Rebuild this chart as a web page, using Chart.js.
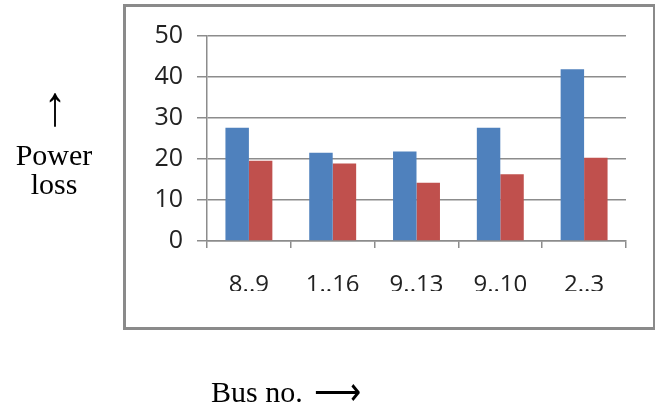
<!DOCTYPE html>
<html>
<head>
<meta charset="utf-8">
<script src="https://cdn.jsdelivr.net/npm/chart.js@4/dist/chart.umd.min.js"></script>
<style>
  body { margin: 0; background: #fff; }
  #wrap { position: relative; width: 655px; height: 410px; overflow: hidden; }
  #box { position: absolute; left: 123px; top: 4px; width: 527px; height: 320px; border: 3px solid #8a8a8a; }
  #chart { position: absolute; left: 0; top: 0; }
  .serif { position: absolute; font-family: "Liberation Serif", "Times New Roman", serif; font-size: 30px; color: #000; line-height: 29px; }
  #upArrow { position: absolute; left: 0; width: 110px; top: 91px; text-align: center; font-family: "Liberation Serif", serif; font-size: 30px; line-height: 30px; transform: scale(1.5, 1.9); transform-origin: 55px 15px; }
  #rightArrow { display: inline-block; margin-left: 4px; transform: scale(1.1, 1.3); transform-origin: left center; }
</style>
</head>
<body>
<div id="wrap">
  <div id="box"></div>
  <canvas id="chart" width="655" height="410"></canvas>
  <div id="upArrow">&uarr;</div>
  <div class="serif" style="left:0; width:108px; top:140px; text-align:center;">Power<br>loss</div>
  <div class="serif" style="left:211px; top:377px;">Bus no. <span id="rightArrow">&#10230;</span></div>
</div>
<script>
// datos
const busLabels = ['8..9', '1..16', '9..13', '9..10', '2..3'];
const lossBefore = [27.6, 21.5, 21.8, 27.6, 41.9];
const lossAfter = [19.6, 18.9, 14.2, 16.3, 20.3];
const yTicks = [0, 10, 20, 30, 40, 50];

const ctx = document.getElementById('chart').getContext('2d');
const gridGray = '#8c8c8c';

const lossChart = new Chart(ctx, {
  type: 'bar',
  data: {
    labels: busLabels,
    datasets: [{
      label: 'Before',
      data: lossBefore,
      backgroundColor: '#4f81bd',
      borderWidth: 0,
    }, {
      label: 'After',
      data: lossAfter,
      backgroundColor: '#c0504d',
      borderWidth: 0,
    }],
  },
  options: {
    responsive: false,
    animation: false,
    layout: { padding: { left: 147, right: 29, top: 36, bottom: 119 } },
    plugins: { legend: { display: false }, tooltip: { enabled: false } },
    datasets: { bar: { categoryPercentage: 0.56, barPercentage: 1 } },
    scales: {
      x: {
        afterFit: (scale) => { scale.height = 50; },
        grid: { offset: true, drawOnChartArea: false, drawTicks: true, tickLength: 7, color: gridGray, lineWidth: 1.5 },
        border: { color: gridGray, width: 1.5 },
        ticks: { padding: 23, color: '#222', font: { family: 'Open Sans', size: 24 } },
      },
      y: {
        min: 0,
        max: 50,
        afterFit: (scale) => { scale.width = 60; },
        afterBuildTicks: (scale) => { scale.ticks = yTicks.map(v => ({ value: v })); },
        grid: { color: gridGray, lineWidth: 1.5, tickLength: 10 },
        border: { color: gridGray, width: 1.5 },
        ticks: { padding: 14, color: '#222', font: { family: 'Open Sans', size: 25 } },
      },
    },
  },
});
</script>
</body>
</html>
